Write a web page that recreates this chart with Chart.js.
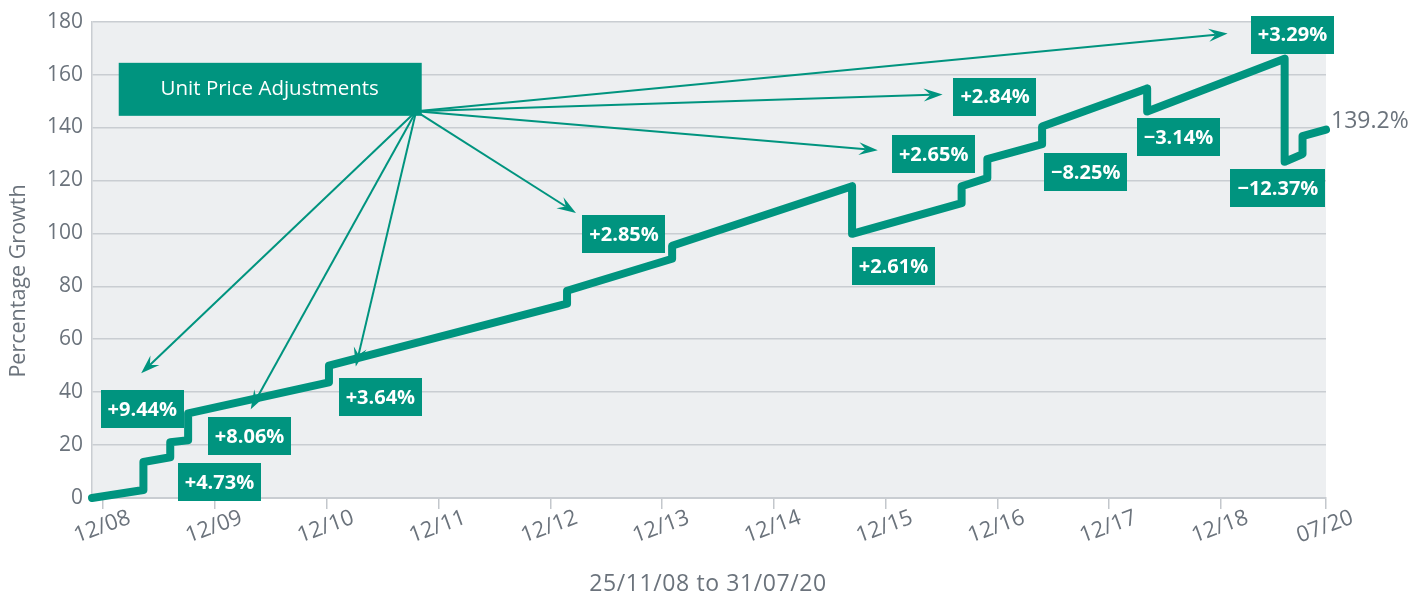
<!DOCTYPE html>
<html>
<head>
<meta charset="utf-8">
<script src="https://cdn.jsdelivr.net/npm/chart.js@4.4.1/dist/chart.umd.min.js"></script>
<style>
html, body { margin: 0; padding: 0; background: #fff; }
#wrap { width: 1424px; height: 598px; }
</style>
</head>
<body>
<div id="wrap"><canvas id="chart"></canvas></div>
<script>
// growth line: x = position on the time axis (decimal year), y = % growth
const lineX = [2008.9, 2009.36, 2009.36, 2009.60, 2009.60, 2009.76, 2009.76, 2011.02, 2011.02, 2013.15, 2013.15,
    2014.09, 2014.09, 2015.70, 2015.70, 2016.68, 2016.68, 2016.91, 2016.91, 2017.40, 2017.40, 2018.34, 2018.34,
    2019.57, 2019.57, 2019.73, 2019.73, 2019.94];
const lineY = [0, 3.0, 13.6, 15.4, 21.1, 21.8, 32.0, 43.7, 50.0, 73.4, 78.3,
    90.4, 95.3, 117.8, 99.8, 111.4, 117.8, 120.9, 128.0, 133.7, 140.4, 154.7, 146.0,
    166.0, 127.0, 129.9, 136.7, 139.2];
const endLabel = "139.2%";

// x axis ticks
const tickPos = [2009, 2010, 2011, 2012, 2013, 2014, 2015, 2016, 2017, 2018, 2019, 2019.94];
const tickLabels = ["12/08", "12/09", "12/10", "12/11", "12/12", "12/13", "12/14", "12/15", "12/16", "12/17", "12/18", "07/20"];

// unit price adjustment labels (box centres in data units)
const adjLabels = ["+9.44%", "+4.73%", "+8.06%", "+3.64%", "+2.85%", "+2.61%", "+2.65%", "+2.84%", "+3.29%", "\u22123.14%", "\u22128.25%", "\u221212.37%"];
const adjX = [2009.35, 2010.04, 2010.31, 2011.48, 2013.66, 2016.07, 2016.43, 2016.98, 2019.64, 2018.62, 2017.79, 2019.51];
const adjY = [33.5, 6.0, 23.5, 38.0, 99.8, 87.7, 129.9, 151.7, 175.1, 136.3, 123.1, 117.1];

// callout and its arrows
const calloutText = "Unit Price Adjustments";
const calloutX = 2010.49, calloutY = 154.6;
const arrowFromX = 2011.80, arrowFromY = 146.1;
const arrowX = [2009.34, 2010.32, 2011.26, 2013.23, 2015.93, 2016.51, 2019.06];
const arrowY = [47.1, 33.5, 49.7, 107.7, 131.4, 152.5, 175.5];

const teal = "#00947f";
const grey = "#6b737c";
const font = "'Open Sans', 'Noto Sans', sans-serif";

function drawArrow(ctx, x0, y0, x1, y1) {
    const a = Math.atan2(y1 - y0, x1 - x0);
    const len = 19, w = 6.5, notch = 12;
    ctx.save();
    ctx.translate(x1, y1);
    ctx.rotate(a);
    ctx.beginPath();
    ctx.moveTo(-Math.hypot(x1 - x0, y1 - y0), 0);
    ctx.lineTo(-notch, 0);
    ctx.strokeStyle = teal;
    ctx.lineWidth = 2;
    ctx.stroke();
    ctx.beginPath();
    ctx.moveTo(0, 0);
    ctx.lineTo(-len, -w);
    ctx.lineTo(-notch, 0);
    ctx.lineTo(-len, w);
    ctx.closePath();
    ctx.fillStyle = teal;
    ctx.fill();
    ctx.restore();
}

const decor = {
    id: "decor",
    beforeDraw(chart) {
        const { ctx, chartArea: a } = chart;
        ctx.save();
        ctx.fillStyle = "#edeff1";
        ctx.fillRect(a.left, a.top, a.right - a.left, a.bottom - a.top);
        ctx.restore();
    },
    afterDatasetsDraw(chart) {
        const { ctx, scales: { x, y }, chartArea: a } = chart;
        ctx.save();
        // arrows
        const ox = x.getPixelForValue(arrowFromX), oy = y.getPixelForValue(arrowFromY);
        arrowX.forEach((v, i) => drawArrow(ctx, ox, oy, x.getPixelForValue(v), y.getPixelForValue(arrowY[i])));
        // callout box
        const cx = x.getPixelForValue(calloutX), cy = y.getPixelForValue(calloutY);
        ctx.fillStyle = teal;
        ctx.fillRect(cx - 151, cy - 26, 303, 53);
        ctx.fillStyle = "#fff";
        ctx.font = "20.5px " + font;
        ctx.textAlign = "center";
        ctx.textBaseline = "middle";
        ctx.fillText(calloutText, cx, cy);
        // adjustment boxes
        ctx.font = "bold 20px " + font;
        adjLabels.forEach((t, i) => {
            const px = x.getPixelForValue(adjX[i]), py = y.getPixelForValue(adjY[i]);
            const w = ctx.measureText(t).width + 14;
            ctx.fillStyle = teal;
            ctx.fillRect(Math.round(px - w / 2), Math.round(py - 19), Math.round(w), 38);
            ctx.fillStyle = "#fff";
            ctx.fillText(t, px, py + 1);
        });
        // end value
        const lx = x.getPixelForValue(lineX[lineX.length - 1]), ly = y.getPixelForValue(lineY[lineY.length - 1]);
        ctx.fillStyle = grey;
        ctx.font = "23px " + font;
        ctx.textAlign = "left";
        ctx.fillText(endLabel, lx + 5, ly - 8);
        // x tick labels (rotated, centred on tick)
        ctx.font = "22px " + font;
        ctx.textAlign = "center";
        tickPos.forEach((v, i) => {
            ctx.save();
            ctx.translate(x.getPixelForValue(v) - 1, a.bottom + 29);
            ctx.rotate(-20 * Math.PI / 180);
            ctx.fillText(tickLabels[i], 0, 0);
            ctx.restore();
        });
        // axis titles
        ctx.font = "23px " + font;
        ctx.letterSpacing = "0.6px";
        ctx.fillText("25/11/08 to 31/07/20", (a.left + a.right) / 2 - 1, 584);
        ctx.letterSpacing = "0px";
        ctx.font = "21.5px " + font;
        ctx.save();
        ctx.translate(19, 281);
        ctx.rotate(-Math.PI / 2);
        ctx.fillText("Percentage Growth", 0, 0);
        ctx.restore();
        ctx.restore();
    }
};

new Chart(document.getElementById("chart"), {
    type: "line",
    data: {
        datasets: [{
            data: lineX.map((v, i) => ({ x: v, y: lineY[i] })),
            borderColor: teal,
            borderWidth: 8,
            borderJoinStyle: "round",
            borderCapStyle: "round",
            pointRadius: 0,
            tension: 0,
            clip: false
        }]
    },
    options: {
        responsive: true,
        maintainAspectRatio: false,
        animation: false,
        layout: { padding: { top: 20, right: 98, left: 0, bottom: 0 } },
        plugins: { legend: { display: false }, tooltip: { enabled: false } },
        scales: {
            x: {
                type: "linear",
                min: 2008.9,
                max: 2019.94,
                afterBuildTicks: (scale) => { scale.ticks = tickPos.map(v => ({ value: v })); },
                afterFit: (scale) => { scale.height = 100; },
                ticks: { display: false },
                grid: { drawOnChartArea: false, drawTicks: true, tickLength: 11, color: "#c3c7cc", lineWidth: 1.5 },
                border: { color: "#c9cdd2", width: 2 }
            },
            y: {
                min: 0,
                max: 180,
                afterFit: (scale) => { scale.width = 92; },
                ticks: { stepSize: 20, padding: 9, color: grey, font: { family: font, size: 21 } },
                grid: { drawTicks: false, color: "#c9cdd2", lineWidth: 1.5 },
                border: { color: "#c9cdd2", width: 1.5 }
            }
        }
    },
    plugins: [decor]
});
</script>
</body>
</html>
